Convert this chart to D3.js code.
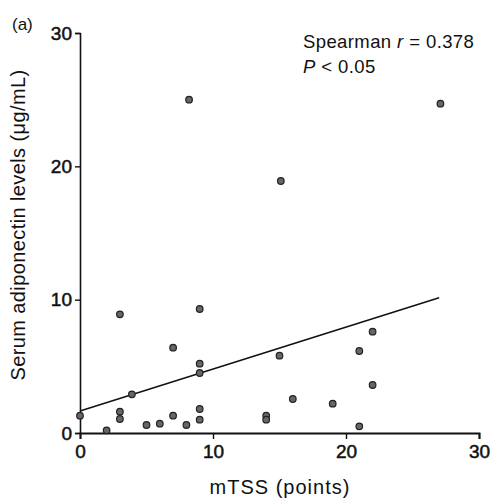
<!DOCTYPE html>
<html>
<head>
<meta charset="utf-8">
<script src="https://cdn.jsdelivr.net/npm/d3@7"></script>
<style>
  body { margin: 0; background: #fff; }
  svg text { font-family: "Liberation Sans", Arial, sans-serif; fill: #111; }
</style>
</head>
<body>
<div id="vis"></div>
<script>

var mtss = [0, 2, 3, 3, 3, 3.9, 5, 6, 7, 7, 8, 8.2, 9, 9, 9, 9, 9, 14, 14, 15, 15.1, 16, 19, 21, 21, 22, 22, 27.1];
var adiponectin = [1.3, 0.2, 8.9, 1.6, 1.05, 2.9, 0.6, 0.7, 6.4, 1.3, 0.6, 25.0, 9.3, 5.2, 4.5, 1.8, 1.0, 1.3, 1.0, 5.8, 18.9, 2.55, 2.2, 6.15, 0.5, 7.6, 3.6, 24.7];

var xTicks = [0, 10, 20, 30];
var yTicks = [0, 10, 20, 30];

// fitted line
var fitX = [0, 27];
var fitY = [1.65, 10.15];

var width = 491;
var height = 498;

var svg = d3.select('#vis')
    .append('svg')
    .attr('width', width)
    .attr('height', height);

var x = d3.scaleLinear().domain([0, 30]).range([80, 479]);
var y = d3.scaleLinear().domain([0, 30]).range([433, 33]);

// axes
var xAxis = svg.append('g')
    .attr('transform', 'translate(0,' + y(0) + ')')
    .call(d3.axisBottom(x).tickValues(xTicks).tickSize(6).tickPadding(6));

var yAxis = svg.append('g')
    .attr('transform', 'translate(' + x(0) + ',0)')
    .call(d3.axisLeft(y).tickValues(yTicks).tickSize(5).tickPadding(3));

[xAxis, yAxis].forEach(function (a) {
    a.select('.domain').attr('stroke', '#111').attr('stroke-width', 1.6);
    a.selectAll('.tick line').attr('stroke', '#111').attr('stroke-width', 1.4);
    a.selectAll('.tick text')
        .style('font-size', '19px')
        .attr('fill', '#111')
        .attr('stroke', '#111')
        .attr('stroke-width', 0.5);
});
xAxis.select('.domain').attr('stroke-width', 2);

// regression line
var line = d3.line()
    .x(function (d) { return x(d[0]); })
    .y(function (d) { return y(d[1]); });

svg.append('path')
    .datum(d3.zip(fitX, fitY))
    .attr('d', line)
    .attr('fill', 'none')
    .attr('stroke', '#111')
    .attr('stroke-width', 1.5);

// points
svg.selectAll('.dot')
    .data(d3.zip(mtss, adiponectin))
    .enter().append('circle')
    .attr('class', 'dot')
    .attr('cx', function (d) { return x(d[0]); })
    .attr('cy', function (d) { return y(d[1]); })
    .attr('r', 3.3)
    .attr('fill', '#666')
    .attr('stroke', '#222')
    .attr('stroke-width', 1.2);

// labels
svg.append('text')
    .attr('x', 12)
    .attr('y', 30)
    .style('font-size', '17px')
    .text('(a)');

svg.append('text')
    .attr('transform', 'translate(25,225) rotate(-90)')
    .attr('text-anchor', 'middle')
    .style('font-size', '20px')
    .style('letter-spacing', '0.4px')
    .text('Serum adiponectin levels (\u03bcg/mL)');

svg.append('text')
    .attr('x', 280)
    .attr('y', 494)
    .attr('text-anchor', 'middle')
    .style('font-size', '20px')
    .style('letter-spacing', '1px')
    .text('mTSS (points)');

var note = svg.append('text')
    .attr('x', 303)
    .attr('y', 48)
    .style('font-size', '18.5px')
    .style('letter-spacing', '0.4px');
note.append('tspan').text('Spearman ');
note.append('tspan').style('font-style', 'italic').text('r');
note.append('tspan').text(' = 0.378');

var note2 = svg.append('text')
    .attr('x', 303)
    .attr('y', 73)
    .style('font-size', '18.5px')
    .style('letter-spacing', '0.4px');
note2.append('tspan').style('font-style', 'italic').text('P');
note2.append('tspan').text(' < 0.05');

</script>
</body>
</html>
